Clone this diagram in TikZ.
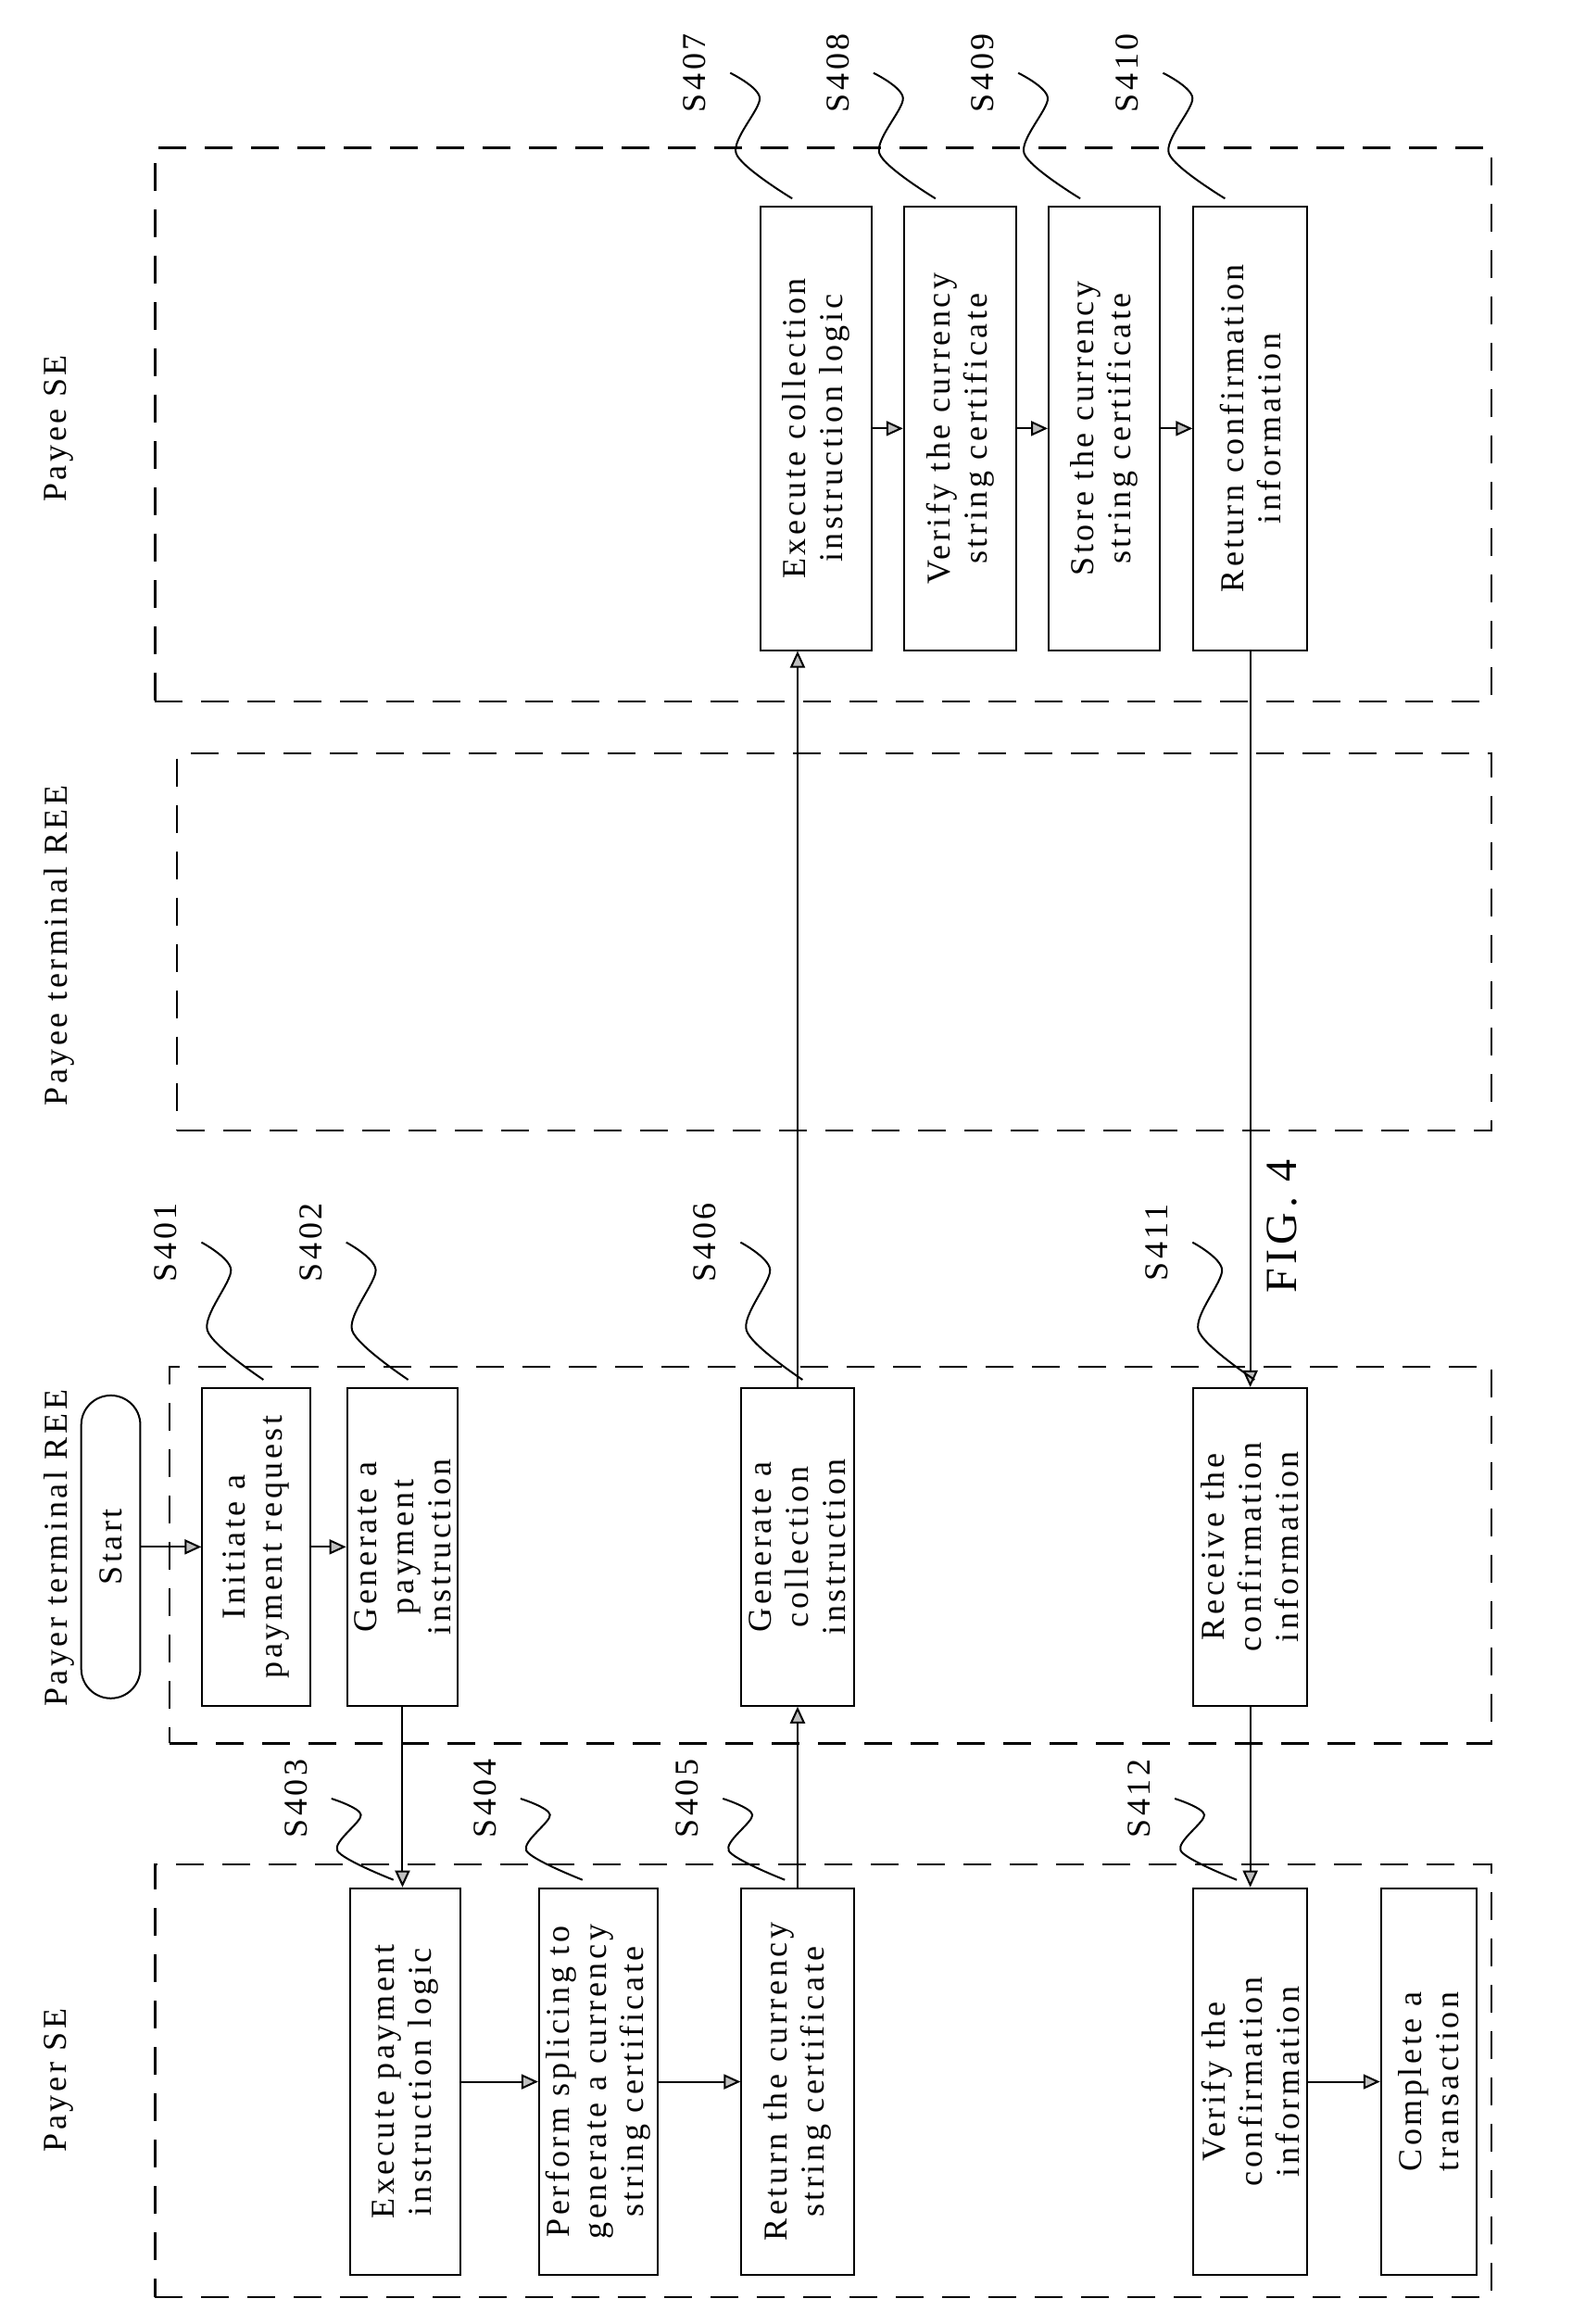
\documentclass[tikz,border=0pt]{standalone}
\usepackage{fontspec}
\setmainfont{Liberation Serif}[LetterSpace=10]
\usetikzlibrary{shapes.misc, arrows.meta, calc}
\newlength\ux
\setlength\ux{1.5944pt}
\tikzstyle{lane} = [rectangle, draw=black, line width=2.2pt, dash pattern=on 30pt off 20pt]
\tikzstyle{stepbox} = [rectangle, draw=black, line width=2pt, rotate=90, align=center, inner sep=1pt]
\tikzstyle{term} = [rounded rectangle, draw=black, line width=2pt, rotate=90, align=center]
\tikzstyle{arrow} = [line width=2pt, -{Triangle[length=18pt,width=16pt,fill=gray!50]}]
\tikzstyle{squig} = [line width=2pt]
\newcommand{\steptag}[4]{%
  \coordinate (t) at ($(#1.north east)+(#3,-5)$);
  \draw[squig] plot[smooth] coordinates {($(t)+(-42,-#4)$) ($(t)+(-22,{-0.8*#4})$) ($(t)+(-38,{-0.36*#4})$) (t)};
  \node[rotate=90] at ($(t)+(-66,{-#4})$) {#2};}
\begin{document}
\begin{tikzpicture}[x=\ux, y=-\ux, every node/.style={font=\fontsize{36}{40}\selectfont}]
\fill[white] (0,0) rectangle (1073,1573);
\useasboundingbox (0,0) rectangle (1073,1573);

% lanes
\node (payerSE) [lane, minimum width=905\ux, minimum height=293\ux] at (557.5,1408.5) {};
\node (payerREE) [lane, minimum width=895\ux, minimum height=255\ux] at (562.5,1052.5) {};
\node (payeeREE) [lane, minimum width=890\ux, minimum height=255\ux] at (565,637.5) {};
\node (payeeSE) [lane, minimum width=905\ux, minimum height=375\ux] at (557.5,287.5) {};
\node (lblPayerSE) [rotate=90] at (40,1408) {Payer SE};
\node (lblPayerREE) [rotate=90] at (40,1048) {Payer terminal REE};
\node (lblPayeeREE) [rotate=90] at (40,640) {Payee terminal REE};
\node (lblPayeeSE) [rotate=90] at (40,290) {Payee SE};

% payer terminal REE
\node (start) [term, minimum width=205\ux, minimum height=40\ux, inner sep=0pt] at (75,1047) {Start};
\node (init) [stepbox, minimum width=215\ux, minimum height=73\ux] at (173.5,1047) {Initiate a\\payment request};
\node (genpay) [stepbox, minimum width=215\ux, minimum height=75\ux] at (272.5,1047) {Generate a\\payment\\instruction};
\node (gencol) [stepbox, minimum width=215\ux, minimum height=76\ux] at (540,1047) {Generate a\\collection\\instruction};
\node (recv) [stepbox, minimum width=215\ux, minimum height=77\ux] at (846.5,1047) {Receive the\\confirmation\\information};

% payer SE
\node (exepay) [stepbox, minimum width=262\ux, minimum height=75\ux] at (274.5,1409) {Execute payment\\instruction logic};
\node (splice) [stepbox, minimum width=262\ux, minimum height=80\ux] at (405,1409) {Perform splicing to\\generate a currency\\string certificate};
\node (retcur) [stepbox, minimum width=262\ux, minimum height=76\ux] at (540,1409) {Return the currency\\string certificate};
\node (verconf) [stepbox, minimum width=262\ux, minimum height=77\ux] at (846.5,1409) {Verify the\\confirmation\\information};
\node (complete) [stepbox, minimum width=262\ux, minimum height=65\ux] at (967.5,1409) {Complete a\\transaction};

% payee SE
\node (execol) [stepbox, minimum width=300\ux, minimum height=75\ux] at (552.5,290) {Execute collection\\instruction logic};
\node (vercur) [stepbox, minimum width=300\ux, minimum height=76\ux] at (650,290) {Verify the currency\\string certificate};
\node (store) [stepbox, minimum width=300\ux, minimum height=75\ux] at (747.5,290) {Store the currency\\string certificate};
\node (retconf) [stepbox, minimum width=300\ux, minimum height=77\ux] at (846.5,290) {Return confirmation\\information};

\node (fig) [rotate=90, font=\fontsize{48}{52}\selectfont] at (868,830) {FIG. 4};

% connectors
\draw [arrow] (start.south) -- (init.north);
\draw [arrow] (init.south) -- (genpay.north);
\draw [arrow] (genpay.west) -- (genpay.west |- exepay.east);
\draw [arrow] (exepay.south) -- (splice.north);
\draw [arrow] (splice.south) -- (retcur.north);
\draw [arrow] (retcur.east) -- (gencol.west);
\draw [arrow] (gencol.east) -- (gencol.east |- execol.west);
\draw [arrow] (execol.south) -- (vercur.north);
\draw [arrow] (vercur.south) -- (store.north);
\draw [arrow] (store.south) -- (retconf.north);
\draw [arrow] (retconf.west) -- (retconf.west |- recv.east);
\draw [arrow] (recv.west) -- (recv.west |- verconf.east);
\draw [arrow] (verconf.south) -- (complete.north);

% step tags
\steptag{init}{S401}{42}{93}
\steptag{genpay}{S402}{42}{93}
\steptag{gencol}{S406}{42}{93}
\steptag{recv}{S411}{42}{93}
\steptag{exepay}{S403}{30}{55}
\steptag{splice}{S404}{30}{55}
\steptag{retcur}{S405}{30}{55}
\steptag{verconf}{S412}{30}{55}
\steptag{execol}{S407}{22}{85}
\steptag{vercur}{S408}{22}{85}
\steptag{store}{S409}{22}{85}
\steptag{retconf}{S410}{22}{85}
\end{tikzpicture}
\end{document}
